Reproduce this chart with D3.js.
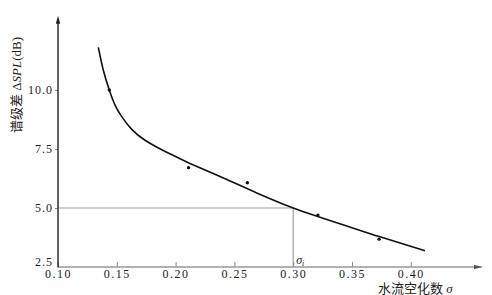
<!DOCTYPE html>
<html>
<head>
<meta charset="utf-8">
<script src="https://cdn.jsdelivr.net/npm/d3@7"></script>
<style>
  html, body { margin: 0; padding: 0; background: #fff; }
  svg text { font-family: "Liberation Serif", "Noto Sans CJK SC", serif; fill: #222; }
</style>
</head>
<body>
<div id="chart"></div>
<script>
// measured points
const sigma = [0.1436, 0.211, 0.261, 0.321, 0.373];
const deltaSpl = [10.0, 6.71, 6.07, 4.70, 3.68];

// fitted curve
const curveSigma = [0.1343, 0.1385, 0.1436, 0.1485, 0.1542, 0.1627, 0.1740, 0.1882, 0.1995, 0.2122, 0.2406, 0.2690, 0.3000, 0.3228, 0.3596, 0.3738, 0.4121];
const curveSpl = [11.81, 10.85, 10.0, 9.36, 8.87, 8.33, 7.87, 7.47, 7.19, 6.89, 6.27, 5.64, 5.00, 4.61, 4.00, 3.78, 3.19];

const xTicks = [0.10, 0.15, 0.20, 0.25, 0.30, 0.35, 0.40];
const yTicks = [2.5, 5.0, 7.5, 10.0];

// critical cavitation number marked on the chart
const sigmaI = 0.30;
const splI = 5.0;

const width = 492, height = 295;

const svg = d3.select("#chart")
    .append("svg")
    .attr("width", width)
    .attr("height", height);

const x = d3.scaleLinear().domain([0.10, 0.40]).range([58, 410.8]);
const y = d3.scaleLinear().domain([2.5, 10.0]).range([267, 90]);

const xEnd = x(0.4605);
const yTop = y(13.15);

// reference lines for sigma_i
svg.append("line")
    .attr("x1", x(0.10)).attr("x2", x(sigmaI))
    .attr("y1", y(splI)).attr("y2", y(splI))
    .attr("stroke", "#a0a0a0").attr("stroke-width", 1.2);
svg.append("line")
    .attr("x1", x(sigmaI)).attr("x2", x(sigmaI))
    .attr("y1", y(splI)).attr("y2", y(2.5))
    .attr("stroke", "#a0a0a0").attr("stroke-width", 1.2);

// x axis
const xAxis = svg.append("g")
    .attr("transform", `translate(0,${y(2.5)})`)
    .call(d3.axisBottom(x).tickValues(xTicks).tickFormat(d3.format(".2f")).tickSize(-5).tickPadding(2));
xAxis.select(".domain").remove();
xAxis.selectAll(".tick line").attr("stroke", "#888");
xAxis.selectAll(".tick text")
    .attr("font-size", 12).attr("letter-spacing", 1.5)
    .attr("font-family", "Liberation Serif");

svg.append("line")
    .attr("x1", x(0.10)).attr("x2", xEnd)
    .attr("y1", y(2.5)).attr("y2", y(2.5))
    .attr("stroke", "#999").attr("stroke-width", 1.3);
svg.append("path")
    .attr("d", `M${xEnd},${y(2.5)} L${xEnd - 8},${y(2.5) - 2.2} L${xEnd - 8},${y(2.5) + 2.2} Z`)
    .attr("fill", "#555");

// y axis
const yAxis = svg.append("g")
    .attr("transform", `translate(${x(0.10)},0)`)
    .call(d3.axisLeft(y).tickValues(yTicks).tickFormat(d3.format(".1f")).tickSize(3).tickPadding(2));
yAxis.select(".domain").remove();
yAxis.selectAll(".tick line").attr("stroke", "#888")
    .filter(d => d === 2.5).remove();
yAxis.selectAll(".tick text")
    .attr("font-size", 12).attr("letter-spacing", 1)
    .attr("font-family", "Liberation Serif");
yAxis.selectAll(".tick text").filter(d => d === 2.5).attr("dy", "-0.15em");

svg.append("line")
    .attr("x1", x(0.10)).attr("x2", x(0.10))
    .attr("y1", y(2.5) + 0.6).attr("y2", yTop + 4)
    .attr("stroke", "#222").attr("stroke-width", 1.4);
svg.append("path")
    .attr("d", `M${x(0.10)},${yTop} L${x(0.10) - 2.2},${yTop + 8} L${x(0.10) + 2.2},${yTop + 8} Z`)
    .attr("fill", "#222");

// curve
const line = d3.line()
    .x(d => x(d[0]))
    .y(d => y(d[1]))
    .curve(d3.curveNatural);

svg.append("path")
    .datum(d3.zip(curveSigma, curveSpl))
    .attr("fill", "none")
    .attr("stroke", "#111")
    .attr("stroke-width", 1.6)
    .attr("d", line);

// measured points
svg.selectAll(".pt")
    .data(d3.zip(sigma, deltaSpl))
    .enter().append("circle")
    .attr("class", "pt")
    .attr("cx", d => x(d[0]))
    .attr("cy", d => y(d[1]))
    .attr("r", 1.7)
    .attr("fill", "#111");

// sigma_i label
const si = svg.append("text")
    .attr("x", x(sigmaI) + 3)
    .attr("y", y(2.5) - 3.5)
    .attr("font-size", 12);
si.append("tspan").attr("font-style", "italic").text("σ");
si.append("tspan").attr("font-style", "italic").attr("font-size", 8).attr("dy", 2).text("i");

// axis titles
const yl = svg.append("text")
    .attr("transform", "translate(21,85) rotate(-90)")
    .attr("text-anchor", "middle")
    .attr("font-size", 13);
yl.append("tspan").text("谱级差 Δ");
yl.append("tspan").attr("font-style", "italic").text("SPL");
yl.append("tspan").text("(dB)");

const xl = svg.append("text")
    .attr("x", 378)
    .attr("y", 293)
    .attr("font-size", 13);
xl.append("tspan").text("水流空化数 ");
xl.append("tspan").attr("font-style", "italic").text("σ");
</script>
</body>
</html>
